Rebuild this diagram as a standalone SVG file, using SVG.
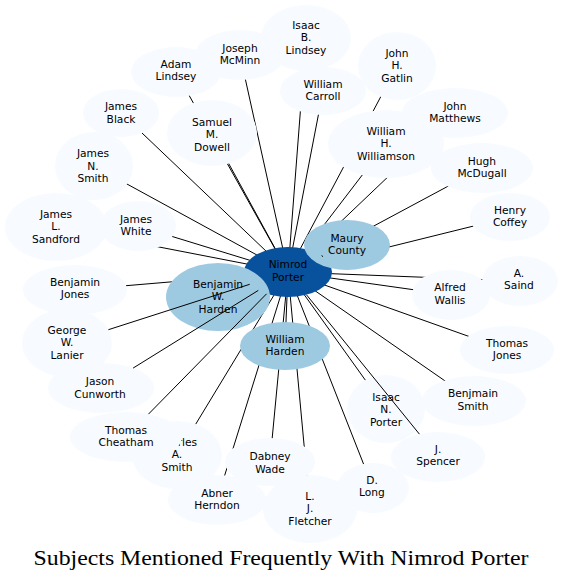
<svg xmlns="http://www.w3.org/2000/svg" width="563" height="579" viewBox="0 0 563 579">
<style>
.n ellipse{stroke:none}
.lt ellipse{fill:#f7fbff}
.md ellipse{fill:#9ecae1}
.dk ellipse{fill:#08519c}
text{font-family:"DejaVu Sans",sans-serif;font-size:10.67px;fill:#000;text-anchor:middle}
.edges line{stroke:#000;stroke-width:1}
.title{font-family:"Liberation Serif",serif;font-size:22px}
</style>
<rect width="563" height="579" fill="#fff"/>
<g id="edges" class="edges">
<line x1="288" y1="272" x2="306" y2="38"/>
<line x1="288" y1="272" x2="240" y2="55"/>
<line x1="288" y1="272" x2="176" y2="72"/>
<line x1="288" y1="272" x2="121" y2="113"/>
<line x1="288" y1="272" x2="212" y2="133"/>
<line x1="288" y1="272" x2="323" y2="91"/>
<line x1="288" y1="272" x2="397" y2="66"/>
<line x1="288" y1="272" x2="455" y2="113"/>
<line x1="288" y1="272" x2="386" y2="144"/>
<line x1="288" y1="272" x2="482" y2="168"/>
<line x1="288" y1="272" x2="510" y2="217"/>
<line x1="288" y1="272" x2="347" y2="245"/>
<line x1="288" y1="272" x2="451" y2="295"/>
<line x1="288" y1="272" x2="520" y2="281"/>
<line x1="288" y1="272" x2="507" y2="350"/>
<line x1="288" y1="272" x2="474" y2="401"/>
<line x1="288" y1="272" x2="386" y2="409"/>
<line x1="288" y1="272" x2="373" y2="488"/>
<line x1="288" y1="272" x2="310" y2="509"/>
<line x1="288" y1="272" x2="270" y2="461"/>
<line x1="288" y1="272" x2="217" y2="500"/>
<line x1="288" y1="272" x2="177" y2="455"/>
<line x1="288" y1="272" x2="75" y2="290"/>
<line x1="288" y1="272" x2="56" y2="227"/>
<line x1="288" y1="272" x2="138" y2="226"/>
<line x1="288" y1="272" x2="94" y2="166"/>
<line x1="288" y1="272" x2="218" y2="297"/>
<line x1="288" y1="272" x2="285" y2="346"/>
</g>
<g id="isaac_b_lindsey" class="n lt"><ellipse cx="306" cy="38" rx="45" ry="33"/><text x="306" y="28.5">Isaac</text><text x="306" y="41">B.</text><text x="306" y="53.5">Lindsey</text></g>
<g id="joseph_mcminn" class="n lt"><ellipse cx="240" cy="55" rx="45" ry="25"/><text x="240" y="51.8">Joseph</text><text x="240" y="64.3">McMinn</text></g>
<g id="adam_lindsey" class="n lt"><ellipse cx="176" cy="72" rx="45" ry="25"/><text x="176" y="67.8">Adam</text><text x="176" y="80.3">Lindsey</text></g>
<g id="james_black" class="n lt"><ellipse cx="121" cy="113" rx="38" ry="24"/><text x="121" y="110.3">James</text><text x="121" y="122.8">Black</text></g>
<g id="samuel_m_dowell" class="n lt"><ellipse cx="212" cy="133" rx="45" ry="33"/><text x="212" y="125.5">Samuel</text><text x="212" y="138">M.</text><text x="212" y="150.5">Dowell</text></g>
<g id="william_carroll" class="n lt"><ellipse cx="323" cy="91" rx="43" ry="24"/><text x="323" y="87.8">William</text><text x="323" y="100.3">Carroll</text></g>
<g id="john_h_gatlin" class="n lt"><ellipse cx="397" cy="66" rx="39" ry="34"/><text x="397" y="56.5">John</text><text x="397" y="69">H.</text><text x="397" y="81.5">Gatlin</text></g>
<g id="john_matthews" class="n lt"><ellipse cx="455" cy="113" rx="53" ry="25"/><text x="455" y="109.8">John</text><text x="455" y="122.3">Matthews</text></g>
<g id="william_h_williamson" class="n lt"><ellipse cx="386" cy="144" rx="58" ry="34"/><text x="386" y="134.5">William</text><text x="386" y="147">H.</text><text x="386" y="159.5">Williamson</text></g>
<g id="hugh_mcdugall" class="n lt"><ellipse cx="482" cy="168" rx="51" ry="25"/><text x="482" y="164.8">Hugh</text><text x="482" y="177.3">McDugall</text></g>
<g id="henry_coffey" class="n lt"><ellipse cx="510" cy="217" rx="40" ry="24"/><text x="510" y="213.8">Henry</text><text x="510" y="226.3">Coffey</text></g>
<g id="alfred_wallis" class="n lt"><ellipse cx="451" cy="295" rx="39" ry="25"/><text x="450" y="291.3">Alfred</text><text x="450" y="303.8">Wallis</text></g>
<g id="a_saind" class="n lt"><ellipse cx="520" cy="281" rx="38" ry="25"/><text x="519" y="276.8">A.</text><text x="519" y="289.3">Saind</text></g>
<g id="thomas_jones" class="n lt"><ellipse cx="507" cy="350" rx="47" ry="24"/><text x="507" y="346.8">Thomas</text><text x="507" y="359.3">Jones</text></g>
<g id="benjmain_smith" class="n lt"><ellipse cx="474" cy="401" rx="52" ry="25"/><text x="473" y="397.3">Benjmain</text><text x="473" y="409.8">Smith</text></g>
<g id="isaac_n_porter" class="n lt"><ellipse cx="386" cy="409" rx="39" ry="34"/><text x="386" y="400.5">Isaac</text><text x="386" y="413">N.</text><text x="386" y="425.5">Porter</text></g>
<g id="j_spencer" class="n lt"><ellipse cx="438" cy="457" rx="47" ry="25"/><text x="438" y="452.8">J.</text><text x="438" y="465.3">Spencer</text></g>
<g id="d_long" class="n lt"><ellipse cx="373" cy="488" rx="36" ry="25"/><text x="372" y="483.8">D.</text><text x="372" y="496.3">Long</text></g>
<g id="l_j_fletcher" class="n lt"><ellipse cx="310" cy="509" rx="47" ry="34"/><text x="310" y="499.8">L.</text><text x="310" y="512.3">J.</text><text x="310" y="524.8">Fletcher</text></g>
<g id="dabney_wade" class="n lt"><ellipse cx="270" cy="462" rx="45" ry="24"/><text x="270" y="460.3">Dabney</text><text x="270" y="472.8">Wade</text></g>
<g id="abner_herndon" class="n lt"><ellipse cx="217" cy="500" rx="49" ry="25"/><text x="217" y="496.8">Abner</text><text x="217" y="509.3">Herndon</text></g>
<g id="charles_a_smith" class="n lt"><ellipse cx="177" cy="455" rx="45" ry="34"/><text x="177" y="445.5">Charles</text><text x="177" y="458">A.</text><text x="177" y="470.5">Smith</text></g>
<g id="thomas_cheatham" class="n lt"><ellipse cx="126" cy="437" rx="56" ry="25"/><text x="126" y="433.8">Thomas</text><text x="126" y="446.3">Cheatham</text></g>
<g id="jason_cunworth" class="n lt"><ellipse cx="101" cy="388" rx="53" ry="25"/><text x="100" y="385.3">Jason</text><text x="100" y="397.8">Cunworth</text></g>
<g id="george_w_lanier" class="n lt"><ellipse cx="67" cy="343" rx="45" ry="34"/><text x="67" y="333.8">George</text><text x="67" y="346.3">W.</text><text x="67" y="358.8">Lanier</text></g>
<g id="benjamin_jones" class="n lt"><ellipse cx="75" cy="290" rx="52" ry="25"/><text x="75" y="285.8">Benjamin</text><text x="75" y="298.3">Jones</text></g>
<g id="james_l_sandford" class="n lt"><ellipse cx="56" cy="227" rx="51" ry="34"/><text x="56" y="217.5">James</text><text x="56" y="230">L.</text><text x="56" y="242.5">Sandford</text></g>
<g id="james_white" class="n lt"><ellipse cx="138" cy="226" rx="38" ry="25"/><text x="136" y="222.8">James</text><text x="136" y="235.3">White</text></g>
<g id="james_n_smith" class="n lt"><ellipse cx="94" cy="166" rx="39" ry="34"/><text x="93" y="157.2">James</text><text x="93" y="169.7">N.</text><text x="93" y="182.2">Smith</text></g>
<g id="nimrod_porter" class="n dk"><ellipse cx="288" cy="272" rx="44" ry="25"/><text x="288" y="268.3">Nimrod</text><text x="288" y="280.8">Porter</text></g>
<g id="maury_county" class="n md"><ellipse cx="347" cy="245" rx="43" ry="25"/><text x="347" y="241.8">Maury</text><text x="347" y="254.3">County</text></g>
<g id="benjamin_w_harden" class="n md"><ellipse cx="218" cy="297" rx="52" ry="34"/><text x="218" y="287.5">Benjamin</text><text x="218" y="300">W.</text><text x="218" y="312.5">Harden</text></g>
<g id="william_harden" class="n md"><ellipse cx="285" cy="346" rx="45" ry="24"/><text x="285" y="342.8">William</text><text x="285" y="355.3">Harden</text></g>
<g id="edges_over" class="edges">
<line x1="249.7" y1="284.3" x2="108.4" y2="329.7"/>
<line x1="258.3" y1="290.4" x2="133.1" y2="368.1"/>
<line x1="266.6" y1="293.8" x2="148.5" y2="414.1"/>
<line x1="306.4" y1="294.7" x2="419.4" y2="434.1"/>
<line x1="321.6" y1="255.6" x2="323" y2="256.6"/>
</g>
<text class="title" x="281" y="565" textLength="495" lengthAdjust="spacingAndGlyphs">Subjects Mentioned Frequently With Nimrod Porter</text>
</svg>
